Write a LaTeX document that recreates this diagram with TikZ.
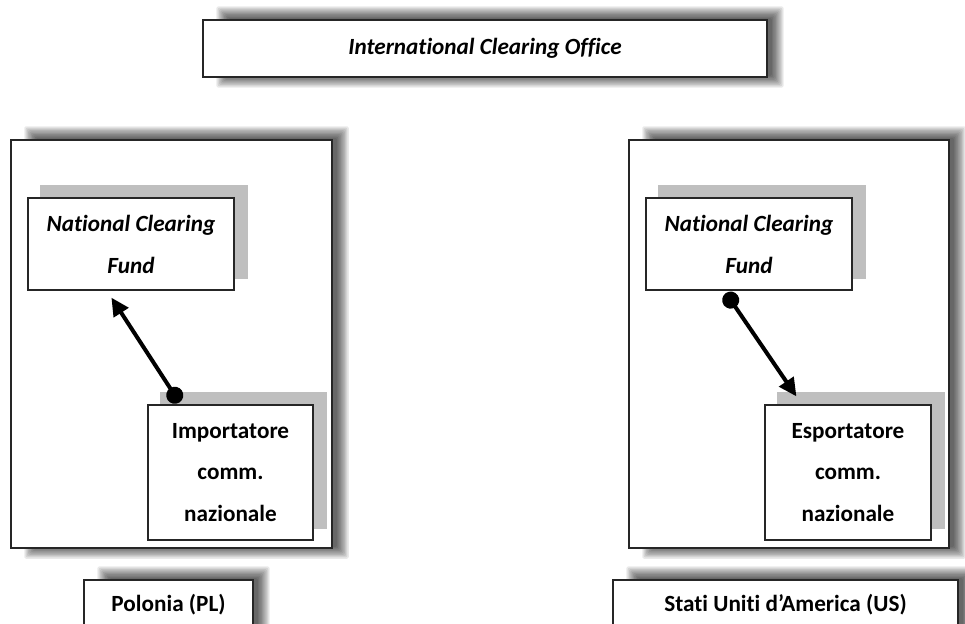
\documentclass[tikz,border=0pt]{standalone}
\usepackage{fontspec}
\setmainfont{Carlito}[Ligatures={NoCommon}]
\usetikzlibrary{arrows.meta,calc}
\pgfdeclarelayer{shade}
\pgfdeclarelayer{frame}
\pgfdeclarelayer{flat}
\pgfsetlayers{shade,frame,flat,main}

% soft drop shadow behind a named node, raised and pushed to the right
\newcommand\softshade[1]{%
  \begin{pgfonlayer}{shade}
  \foreach \k in {0,...,9}{%
    \fill[black,opacity=0.085,rounded corners=2pt]
      ($(#1.north west)+(14+\k*1.3,-13+\k*1.3)$) rectangle
      ($(#1.south east)+(16-\k*1.3,10-\k*1.3)$);}
  \end{pgfonlayer}}
% flat grey shadow behind a named node
\newcommand\flatshade[1]{%
  \begin{pgfonlayer}{flat}
  \fill[black!25] ($(#1.north west)+(13,-12)$) rectangle ($(#1.south east)+(13,-12)$);
  \end{pgfonlayer}}

\begin{document}
\begin{tikzpicture}[x=1pt,y=-1pt,
  outerbox/.style={draw=black!85, line width=1.5pt, fill=white, inner sep=0pt},
  box/.style={draw=black!85, line width=1.2pt, fill=white, inner sep=0pt, align=center},
  lbl/.style={font=\fontsize{23.2}{41.5}\selectfont\bfseries},
  ilbl/.style={font=\fontsize{23.2}{42}\selectfont\bfseries\itshape},
  flow/.style={line width=4pt, {Circle[length=17pt]}-{Triangle[length=18pt,width=17pt]}},
]
\useasboundingbox (0,0) rectangle (965,623);
\clip (0,0) rectangle (965,623);

% header
\node[box, ilbl, minimum width=564pt, minimum height=57pt] (ico) at (485,48.5)
  {International Clearing Office};
\softshade{ico}

% Poland
\begin{pgfonlayer}{frame}
\node[outerbox, minimum width=321pt, minimum height=408pt] (pl) at (171.5,344) {};
\end{pgfonlayer}
\softshade{pl}
\node[box, ilbl, minimum width=206pt, minimum height=92pt] (ncfL) at (131,244)
  {National Clearing\\Fund};
\flatshade{ncfL}
\node[box, lbl, minimum width=165pt, minimum height=135pt] (imp) at (230.5,472.5)
  {Importatore\\comm.\\nazionale};
\flatshade{imp}
\node[box, lbl, minimum width=169pt, minimum height=50pt] (plname) at (168.5,605)
  {Polonia (PL)};
\softshade{plname}

% United States
\begin{pgfonlayer}{frame}
\node[outerbox, minimum width=320pt, minimum height=408pt] (us) at (789,344) {};
\end{pgfonlayer}
\softshade{us}
\node[box, ilbl, minimum width=206pt, minimum height=92pt] (ncfR) at (749,244)
  {National Clearing\\Fund};
\flatshade{ncfR}
\node[box, lbl, minimum width=166pt, minimum height=135pt] (esp) at (848,472.5)
  {Esportatore\\comm.\\nazionale};
\flatshade{esp}
\node[box, lbl, minimum width=345pt, minimum height=50pt] (usname) at (785.5,605)
  {Stati Uniti d’America (US)};
\softshade{usname}

% flows
\coordinate (impOut) at ($(imp.north west)+(32,-2)$);
\coordinate (ncfLIn) at ($(ncfL.south west)+(84,7)$);
\draw[flow] (impOut) -- (ncfLIn);
\coordinate (ncfROut) at ($(ncfR.south west)+(80.5,2.5)$);
\coordinate (espIn) at ($(esp.north west)+(32,-8)$);
\draw[flow] (ncfROut) -- (espIn);
\end{tikzpicture}
\end{document}
